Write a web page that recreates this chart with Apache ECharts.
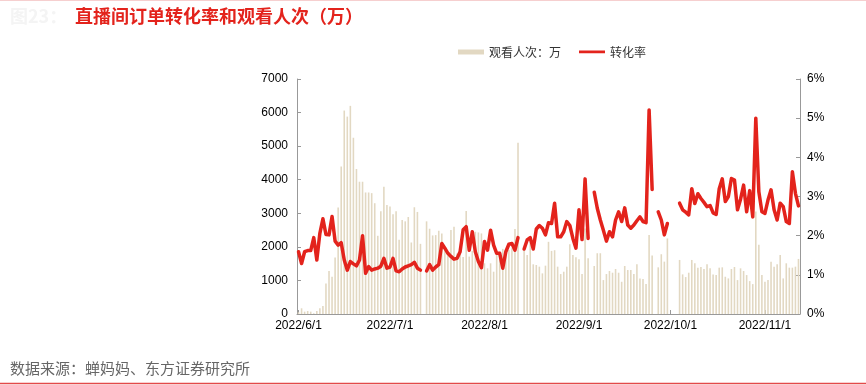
<!DOCTYPE html>
<html>
<head>
<meta charset="utf-8">
<script src="https://cdn.jsdelivr.net/npm/echarts@6/dist/echarts.min.js"></script>
<style>
html,body{margin:0;padding:0;background:#fff;}
#c{width:866px;height:385px;}
</style>
</head>
<body>
<div id="c"></div>
<script>
// categories: daily dates 2022/6/1 .. 2022/11/12
var startDate = [2022, 6, 1];
var dayCount = 165;
var monthTickLabels = ['2022/6/1','2022/7/1','2022/8/1','2022/9/1','2022/10/1','2022/11/1'];
var leftTicks = [0, 1000, 2000, 3000, 4000, 5000, 6000, 7000];
var rightTicks = [0, 1, 2, 3, 4, 5, 6];

// 观看人次：万
var views = [
  50,170,70,90,70,20,90,170,240,910,
  1280,1110,1680,3170,4390,6060,5880,6200,5250,4320,
  3940,3940,3620,3620,3600,3300,2330,3060,3790,3250,
  3200,2970,3060,2210,2800,2760,2890,2130,3180,3040,
  2090,null,2760,2540,2340,2350,2480,2400,1900,1750,
  2500,2600,1800,2000,1700,3070,1710,1880,2450,2430,
  2400,1510,1360,1510,1260,1760,1860,1940,1780,1910,
  1960,2530,5100,null,1940,1760,2250,1480,1460,1410,
  1210,1440,2150,1880,1900,1410,1190,1260,1410,2080,
  1760,1690,1630,1190,2550,1660,null,1430,1810,1810,
  1010,1190,1280,1230,1340,1230,960,1430,1310,1310,
  1190,1480,1060,1040,890,2350,1740,null,1390,1780,
  1560,2250,null,null,null,1610,1180,1100,1230,1610,
  1510,1380,1400,1340,1480,1360,1180,1160,1380,1390,
  1110,1060,1340,1400,1010,1360,1280,1160,980,890,
  3050,2060,1160,960,1010,1560,1410,1480,1760,1060,
  1510,1380,1380,1410,1640
];

// 转化率 (%)
var rate = [
  1.59,1.29,1.59,1.62,1.62,1.95,1.38,2.06,2.43,2.03,
  2.02,2.49,1.86,1.76,1.82,1.38,1.12,1.34,1.28,1.23,
  1.38,2.00,1.04,1.21,1.12,1.15,1.17,1.22,1.42,1.17,
  1.20,1.42,1.10,1.08,1.15,1.20,1.23,1.26,1.32,1.17,
  1.12,null,1.10,1.26,1.12,1.20,1.26,1.80,1.68,1.55,
  1.47,1.40,1.42,1.59,2.15,2.23,1.63,2.10,1.59,1.34,
  1.18,1.85,1.63,2.14,1.76,1.55,1.55,1.17,1.59,1.78,
  1.80,1.63,1.95,null,1.66,1.89,1.95,1.66,2.17,2.26,
  2.19,2.02,2.33,2.31,2.83,1.97,1.97,2.10,2.36,2.26,
  1.93,1.68,2.66,1.90,3.45,1.93,null,3.11,2.70,2.40,
  2.14,1.86,2.10,1.97,2.40,2.61,2.36,2.71,2.27,2.19,
  2.27,2.38,2.48,2.36,2.33,5.21,3.18,null,2.61,2.40,
  2.02,2.31,null,null,null,2.83,2.66,2.60,2.53,3.20,
  2.82,3.07,2.95,2.85,2.74,2.77,2.58,2.54,3.20,3.45,
  2.87,3.00,3.46,3.42,2.66,2.93,3.29,2.61,3.15,2.48,
  5.00,3.12,2.61,2.57,2.91,3.17,2.66,2.40,2.83,2.74,
  2.36,2.31,3.63,3.08,2.76
];

var dates = [];
(function(){
  var d = new Date(startDate[0], startDate[1]-1, startDate[2]);
  for (var i = 0; i < dayCount; i++) {
    dates.push(d.getFullYear() + '/' + (d.getMonth()+1) + '/' + d.getDate());
    d.setDate(d.getDate()+1);
  }
})();
function isMonthStart(idx) { return monthTickLabels.indexOf(dates[idx]) >= 0; }

var chart = echarts.init(document.getElementById('c'), null, {renderer:'canvas'});
var numFont = 'Liberation Sans, Arial, sans-serif';
var cjkFont = '"Noto Sans CJK SC", sans-serif';
// thin line legend icon (3px tall bar inside a 5px box)
var lineIcon = 'path://M0,1 L28,1 L28,3.8 L0,3.8 Z M0,0 L0.01,0 L0.01,0.01 Z M0,5 L0.01,5 L0.01,4.99 Z';
chart.setOption({
  animation: false,
  backgroundColor: '#ffffff',
  title: [{
    text: '图23：',
    left: 10, top: 7, padding: 0,
    textStyle: {color: '#f4f4f4', fontSize: 18, fontWeight: 'bold', fontFamily: cjkFont}
  },{
    text: '直播间订单转化率和观看人次（万）',
    left: 75, top: 7, padding: 0,
    textStyle: {color: '#e3231c', fontSize: 18, fontWeight: 'bold', fontFamily: cjkFont}
  },{
    text: '数据来源：蝉妈妈、东方证券研究所',
    left: 10, top: 361, padding: 0,
    textStyle: {color: '#666666', fontSize: 15, fontWeight: 'normal', fontFamily: cjkFont}
  }],
  graphic: [
    {type: 'line', shape: {x1: 0, y1: 0.5, x2: 866, y2: 0.5}, style: {stroke: '#f6cfcf', lineWidth: 1}},
    {type: 'line', shape: {x1: 0, y1: 383.5, x2: 866, y2: 383.5}, style: {stroke: '#e34a4a', lineWidth: 1.5}}
  ],
  legend: {
    left: 458, top: 46, padding: 0,
    itemWidth: 26, itemHeight: 5, itemGap: 18,
    textStyle: {color: '#333', fontSize: 12, fontFamily: cjkFont},
    data: [
      {name: '观看人次：万', icon: 'rect'},
      {name: '转化率', icon: lineIcon}
    ]
  },
  grid: {left: 297, right: 66, top: 79, bottom: 71},
  xAxis: {
    type: 'category',
    data: dates,
    boundaryGap: true,
    axisLine: {lineStyle: {color: '#999999', width: 1}},
    axisTick: {show: true, inside: true, length: 4, alignWithLabel: true,
      interval: function(i){ return isMonthStart(i); },
      lineStyle: {color: '#999999'}},
    axisLabel: {
      interval: function(i){ return isMonthStart(i); },
      color: '#000', fontSize: 12, fontFamily: numFont, margin: 6
    },
    splitLine: {show: false}
  },
  yAxis: [{
    type: 'value', min: leftTicks[0], max: leftTicks[leftTicks.length-1], interval: 1000,
    axisLine: {show: true, lineStyle: {color: '#999999'}},
    axisTick: {show: true, inside: true, length: 4, lineStyle: {color: '#999999'}},
    axisLabel: {color: '#000', fontSize: 12, fontFamily: numFont, margin: 9,
      formatter: function(v){ return String(v); }},
    splitLine: {show: false}
  },{
    type: 'value', min: rightTicks[0], max: rightTicks[rightTicks.length-1], interval: 1,
    position: 'right',
    axisLine: {show: true, lineStyle: {color: '#999999'}},
    axisTick: {show: true, inside: true, length: 4, lineStyle: {color: '#999999'}},
    axisLabel: {color: '#000', fontSize: 12, fontFamily: numFont, margin: 7, formatter: '{value}%'},
    splitLine: {show: false}
  }],
  series: [{
    name: '观看人次：万',
    type: 'bar',
    data: views,
    yAxisIndex: 0,
    barWidth: '52%',
    itemStyle: {color: '#e2d8c2'}
  },{
    name: '转化率',
    type: 'line',
    data: rate,
    yAxisIndex: 1,
    symbol: 'none',
    connectNulls: false,
    lineStyle: {color: '#e3231c', width: 3.5, join: 'round', cap: 'round'},
    itemStyle: {color: '#e3231c'}
  }]
});
</script>
</body>
</html>
